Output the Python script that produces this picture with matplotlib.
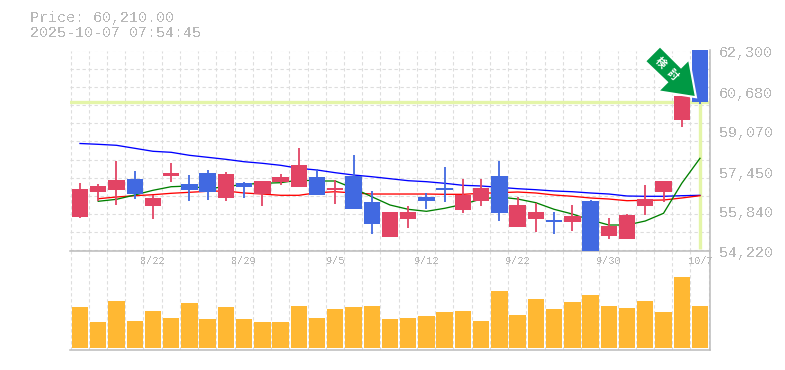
import numpy as np
import matplotlib
matplotlib.use("Agg")
import matplotlib.pyplot as plt
from matplotlib.patches import Polygon

W, H = 785, 370
opens = [55573,56583,56664,57108,56018,57230,56906,57351,56341,56947,56502,56987,56785,57189,56664,57230,56179,54765,55492,56381,56745,55856,56220,57230,55169,55492,55452,55371,56220,54806,54684,56018,56583,59492,62320]
closes = [56704,56826,57068,56502,56341,57351,56664,56583,57310,56785,57028,57189,57674,56462,56745,55896,55290,55775,55775,56220,56664,56462,56745,55735,56058,55775,55371,55614,54200,55210,55654,56300,57028,60462,60219]
highs = [56947,56906,57836,57432,56462,57755,57270,57472,57391,56987,57028,57310,58361,57512,57068,58078,56624,55775,56018,56543,57593,57108,57108,57836,56381,56139,55775,56058,56260,55533,55694,56866,57028,60462,62320]
lows = [55533,56220,56058,56300,55492,56987,56220,56260,56220,56341,56018,56866,56785,56462,56098,55896,54886,54765,55129,55896,56179,55735,56018,55412,55169,54967,54886,55008,54200,54684,54684,55654,56179,59209,60138]
ma_blue = [58543,58510,58470,58349,58228,58187,58066,57985,57904,57807,57743,57662,57541,57472,57363,57270,57201,57121,57040,57000,56935,56854,56826,56773,56717,56676,56624,56595,56543,56502,56422,56410,56410,56434,56450]
ma_red = [np.nan,56312,56381,56434,56474,56531,56571,56612,56624,56543,56502,56450,56450,56555,56595,56543,56502,56502,56502,56502,56490,56490,56531,56555,56583,56543,56462,56410,56341,56300,56232,56248,56260,56341,56434]
ma_green = [np.nan,56208,56288,56462,56652,56797,56826,56717,56797,56894,56935,56959,57068,57028,57028,56733,56393,56058,55884,55803,55925,56086,56300,56381,56300,56151,55884,55694,55452,55250,55250,55412,55723,56935,57945]
volumes = [12300,7800,14100,8100,11100,9000,13500,8700,12300,8700,7800,7800,12600,9000,11700,12300,12600,8700,9000,9600,10800,11100,8100,17100,9900,14700,11700,13800,15900,12600,12000,14100,10800,21300,12600]
price_ticks = [62300,60680,59070,57450,55840,54220]
date_positions = [4,9,14,19,24,29,34]
date_labels = ["8/22","8/29","9/5","9/12","9/22","9/30","10/7"]
last_price = 60210
title_lines = ["Price: 60,210.00","2025-10-07 07:54:45"]
badge_chars = ["検","討"]

RED,BLUE,AMBER = "#E24464","#4169E1","#FFB833"
GRID,SPINE,TEXT = "#DDDDDD","#BBBBBB","#B8B8B8"
LIME = "#E4F5A8"
FONT = "Liberation Mono"
n = len(opens)
x = np.arange(n)
step = 18.235
xlim = ((70-80)/step, (710-80)/step)
gridx = (70.5-80)/step + np.arange(n+1)
DASH = (0,(3,2.4))

fig = plt.figure(figsize=(W/100,H/100), dpi=100)
ax = fig.add_axes([70/W,(H-250.5)/H,640/W,200/H])
av = fig.add_axes([70/W,(H-350)/H,640/W,99.5/H])
ax.set_zorder(2)
for a in (ax,av):
    a.set_xlim(*xlim)
    a.set_xticks(gridx)
    a.tick_params(length=0,labelbottom=False,labelleft=False)
    a.grid(axis='x',color=GRID,lw=0.8,ls=DASH)
    a.set_axisbelow(True)
    for s in ('top','left'):
        a.spines[s].set_visible(False)
    for s in ('bottom','right'):
        a.spines[s].set_color(SPINE); a.spines[s].set_linewidth(1.1)
ax.set_ylim(price_ticks[-1],price_ticks[0])
ax.set_yticks(np.linspace(price_ticks[-1],price_ticks[0],12))
ax.grid(axis='y',color=GRID,lw=0.8,ls=DASH)
av.set_ylim(-600,29250)
av.set_yticks([])

# current price guide
ax.axhline(last_price,color=LIME,lw=2.4,zorder=1.5)
ax.vlines(x[-1],54280,last_price,color=LIME,lw=2.4,zorder=1.5)

# moving averages
for ys,c in ((ma_blue,"#0000FF"),(ma_red,"#FF0000"),(ma_green,"#008000")):
    ax.plot(x,ys,color=c,lw=0.95,zorder=2,clip_on=False)

# candles
colors = [RED if c>=o else BLUE for o,c in zip(opens,closes)]
ax.vlines(x,lows,highs,colors=colors,lw=1.3,zorder=3,clip_on=False)
ax.bar(x,np.abs(np.array(closes)-np.array(opens)),bottom=np.minimum(opens,closes),width=16.4/step,color=colors,zorder=3,clip_on=False)

# volume
av.bar(x,volumes,width=16.4/step,color=AMBER,zorder=3)

# labels
for v in price_ticks:
    ax.annotate(f"{v:,}",xy=(1,v),xycoords=('axes fraction','data'),xytext=(9*.72,-3*.72),textcoords='offset points',
                ha='left',va='center',family=FONT,fontsize=10.8,color=TEXT,annotation_clip=False,antialiased=False)
for p,l in zip(date_positions,date_labels):
    ax.annotate(l,xy=(p,0),xycoords=('data','axes fraction'),xytext=(0,-10.5*.72),textcoords='offset points',
                ha='center',va='center',family=FONT,fontsize=7.4,color=TEXT,annotation_clip=False,antialiased=False)
for i,t in enumerate(title_lines):
    fig.text(30/W,1-(18+15*i)/H,t,family=FONT,fontsize=10.8,color=TEXT,ha='left',va='center',antialiased=False)

# arrow badge, anchored on the last candle
shape = np.array([(-40,-56),(-55,-41),(-33,-20),(-42,-11),(-4,-5),(-11,-43),(-19,-35)],float)
tip = ax.transData.transform((x[-1],last_price))
pts = tip + shape*np.array([1,-1])
fig.add_artist(Polygon(pts,closed=True,transform=None,facecolor="#009944",edgecolor="white",lw=1.5,zorder=5))
for ch,(dx,dy) in zip(badge_chars,[(-40,39),(-28,27)]):
    fig.text((tip[0]+dx)/W,(tip[1]+dy)/H,ch,family=["Noto Sans CJK JP","DejaVu Sans"],fontsize=7.6,fontweight='bold',color="white",rotation=-45,ha='center',va='center',zorder=6,rotation_mode='anchor')

fig.savefig("out.png",dpi=100)
